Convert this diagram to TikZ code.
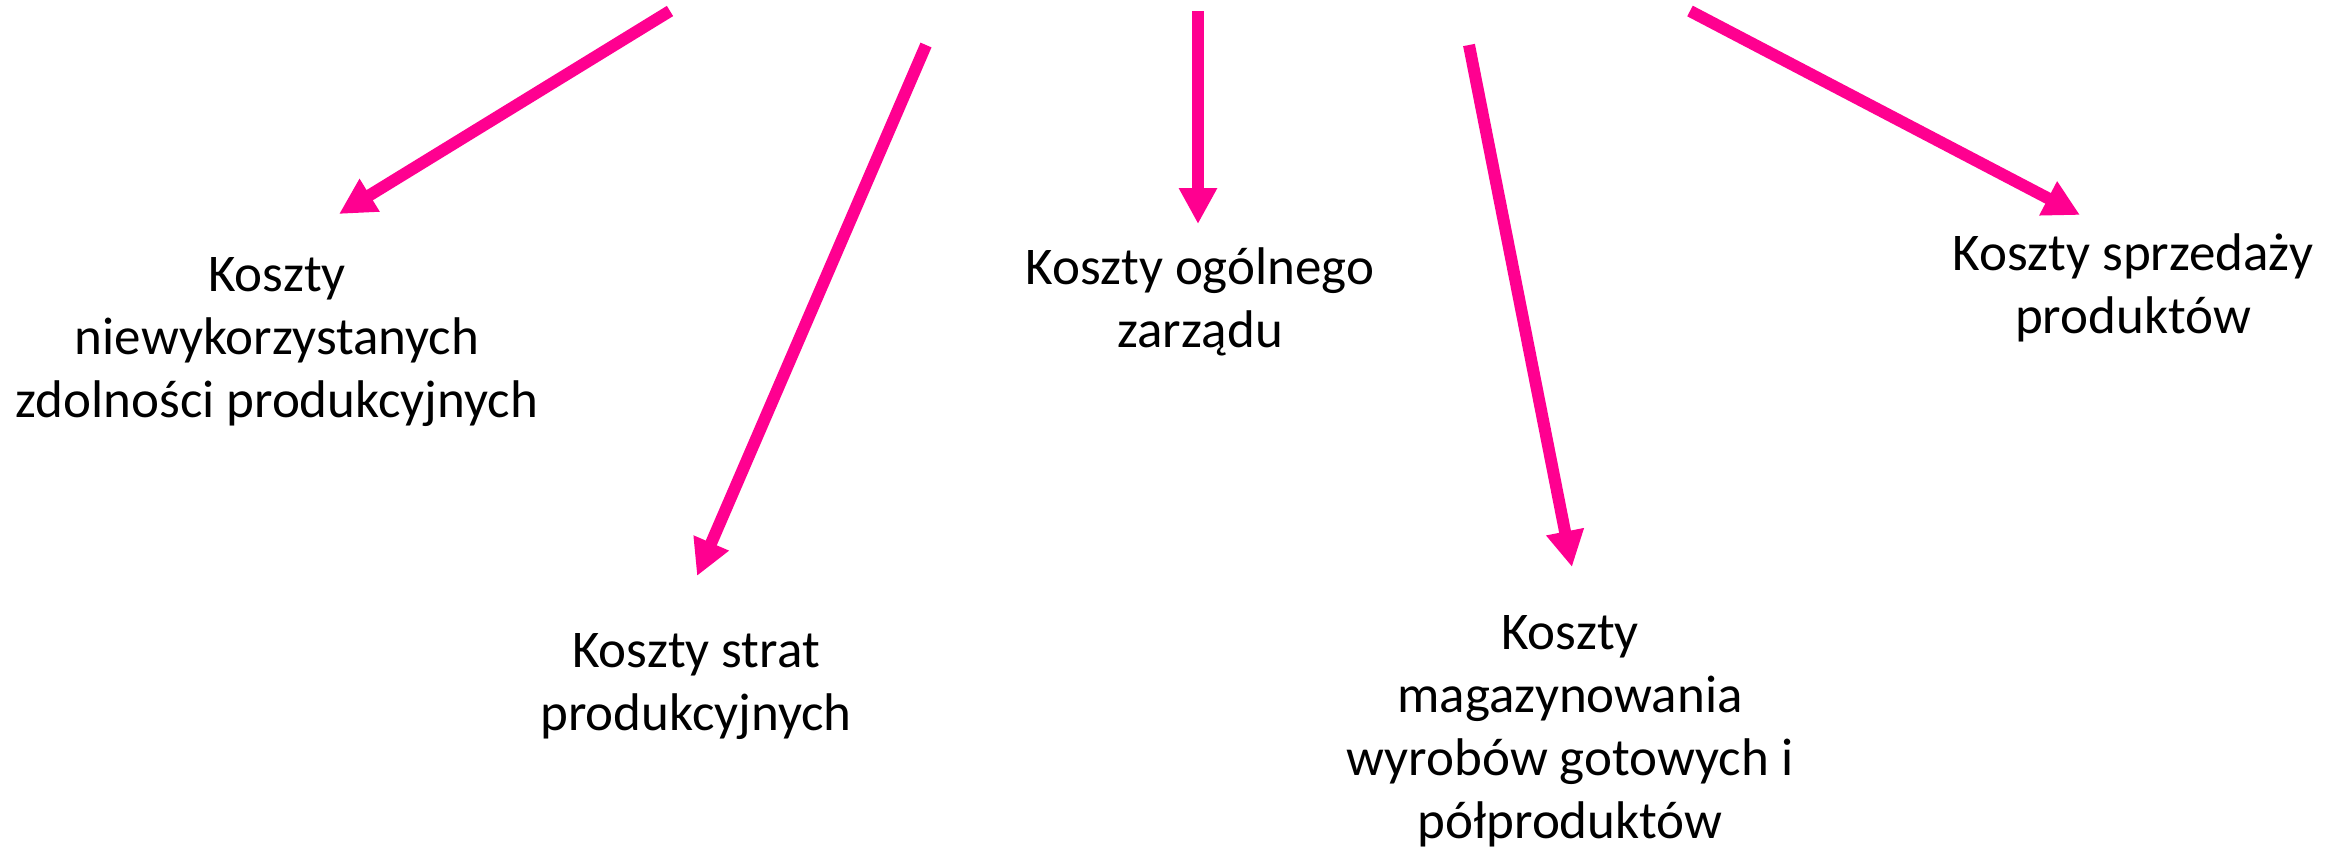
\documentclass[tikz,border=0pt]{standalone}
\usepackage{fontspec}
\setmainfont{Carlito}
\usetikzlibrary{arrows.meta}
\definecolor{pinkarrow}{RGB}{255,0,144}
\tikzset{
  label text/.style={align=center, inner sep=0pt, anchor=base, font=\fontsize{53}{63}\selectfont},
  pinkline/.style={draw=pinkarrow, line width=12pt, -{Triangle[length=36pt,width=36pt]}}
}
\begin{document}
\begin{tikzpicture}[x=1pt,y=-1pt]
\useasboundingbox (0,0) rectangle (2346,855);
% anchor=base is the baseline of the last line
\node[label text] (niew) at (277,417) {Koszty\\niewykorzystanych\\zdolności produkcyjnych};
\node[label text] (strat) at (696,730) {Koszty strat\\produkcyjnych};
\node[label text] (ogol) at (1200,347) {Koszty ogólnego\\zarządu};
\node[label text] (mag) at (1570,838) {Koszty\\magazynowania\\wyrobów gotowych i\\półproduktów};
\node[label text] (sprz) at (2133,333) {Koszty sprzedaży\\produktów};
\coordinate (s1) at (670,11);  \coordinate (t1) at (339,214);
\coordinate (s2) at (926,45);  \coordinate (t2) at (697,576);
\coordinate (s3) at (1198,11); \coordinate (t3) at (1198,224);
\coordinate (s4) at (1469,45); \coordinate (t4) at (1572,567);
\coordinate (s5) at (1690,11); \coordinate (t5) at (2080,215);
\draw[pinkline] (s1) -- (t1);
\draw[pinkline] (s2) -- (t2);
\draw[pinkline] (s3) -- (t3);
\draw[pinkline] (s4) -- (t4);
\draw[pinkline] (s5) -- (t5);
\end{tikzpicture}
\end{document}
